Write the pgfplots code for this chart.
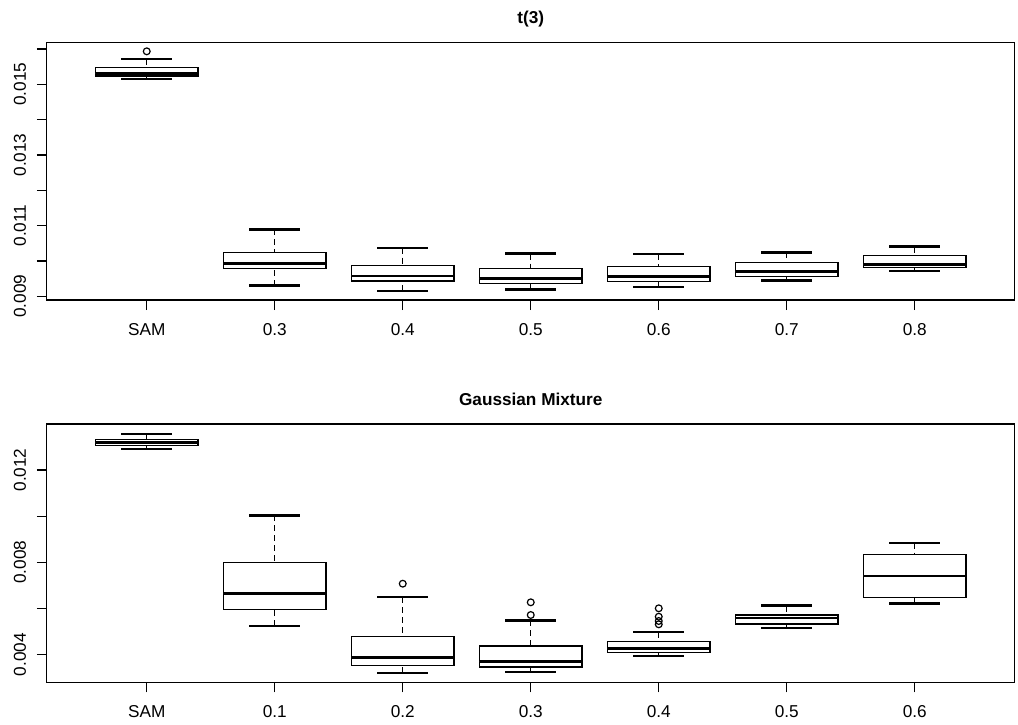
\documentclass[border=0pt]{standalone}
\usepackage{fontspec}
\setmainfont{Liberation Sans}
\usepackage{pgfplots}
\pgfplotsset{compat=1.18}
\usepgfplotslibrary{statistics}

\pgfplotsset{
  rbox/.style={
    scale only axis,
    width=483.85pt,
    xmin=0.22, xmax=7.78,
    xtick={1,2,3,4,5,6,7},
    axis line style={line width=0.6pt},
    tick align=outside,
    xtick pos=bottom, ytick pos=left,
    major tick length=5pt, minor tick length=5pt,
    every tick/.style={line width=0.6pt, black},
    minor tick style={line width=0.6pt, black},
    scaled y ticks=false,
    every tick label/.append style={font=\fontsize{8.6}{10}\selectfont},
    xticklabel style={anchor=base, yshift=-12.5pt},
    yticklabel style={xshift=-5.5pt, rotate=90, anchor=base},
    title style={font=\fontsize{8.6}{10}\selectfont\bfseries, at={(0.5,1)}, anchor=base, yshift=3.5pt},
    boxplot/draw direction=y,
    boxplot/box extend=0.8,
    boxplot/whisker extend=0.4,
    boxplot/every median/.style={line width=1.4pt},
    boxplot/draw/lower whisker/.code={%
      \draw[dash pattern=on 3pt off 2pt, line width=0.6pt]
        (boxplot box cs:\pgfplotsboxplotvalue{lower whisker},0.5) --
        (boxplot box cs:\pgfplotsboxplotvalue{lower quartile},0.5);
      \draw[line width=1.2pt]
        (boxplot whisker cs:\pgfplotsboxplotvalue{lower whisker},0) --
        (boxplot whisker cs:\pgfplotsboxplotvalue{lower whisker},1);
    },
    boxplot/draw/upper whisker/.code={%
      \draw[dash pattern=on 3pt off 2pt, line width=0.6pt]
        (boxplot box cs:\pgfplotsboxplotvalue{upper whisker},0.5) --
        (boxplot box cs:\pgfplotsboxplotvalue{upper quartile},0.5);
      \draw[line width=1.2pt]
        (boxplot whisker cs:\pgfplotsboxplotvalue{upper whisker},0) --
        (boxplot whisker cs:\pgfplotsboxplotvalue{upper whisker},1);
    },
  },
  bx/.style={draw=black, fill=white, line width=0.6pt},
  outl/.style={only marks, mark=o, mark size=1.7pt, mark options={line width=0.6pt, draw=black}},
}

\begin{document}
\begin{tikzpicture}
\useasboundingbox (0pt,0pt) rectangle (509pt,-362pt);

% ---------- top panel: t(3) ----------
\begin{axis}[rbox,
  at={(23.45pt,-150pt)}, anchor=south west,
  height=128.85pt,
  ymin=0.008895, ymax=0.016189,
  ytick={0.009,0.011,0.013,0.015},
  yticklabels={0.009,0.011,0.013,0.015},
  minor ytick={0.010,0.012,0.014,0.016},
  xticklabels={SAM,0.3,0.4,0.5,0.6,0.7,0.8},
  title={t(3)},
]
\addplot[bx, boxplot prepared={draw position=1, lower whisker=0.01515, lower quartile=0.015235, median=0.0153, upper quartile=0.01547, upper whisker=0.015716}] coordinates {};
\addplot[bx, boxplot prepared={draw position=2, lower whisker=0.0093, lower quartile=0.009781, median=0.009923, upper quartile=0.010245, upper whisker=0.010896}] coordinates {};
\addplot[bx, boxplot prepared={draw position=3, lower whisker=0.009158, lower quartile=0.009433, median=0.009575, upper quartile=0.009866, upper whisker=0.010375}] coordinates {};
\addplot[bx, boxplot prepared={draw position=4, lower whisker=0.009187, lower quartile=0.009357, median=0.009509, upper quartile=0.009792, upper whisker=0.010206}] coordinates {};
\addplot[bx, boxplot prepared={draw position=5, lower whisker=0.009263, lower quartile=0.009413, median=0.009566, upper quartile=0.009849, upper whisker=0.010189}] coordinates {};
\addplot[bx, boxplot prepared={draw position=6, lower whisker=0.009442, lower quartile=0.009566, median=0.009696, upper quartile=0.009962, upper whisker=0.010245}] coordinates {};
\addplot[bx, boxplot prepared={draw position=7, lower whisker=0.009716, lower quartile=0.009811, median=0.009906, upper quartile=0.010149, upper whisker=0.010404}] coordinates {};
\addplot[outl] coordinates {(1,0.015934)};
\end{axis}

% ---------- bottom panel: Gaussian Mixture ----------
\begin{axis}[rbox,
  at={(23.45pt,-341.15pt)}, anchor=south west,
  height=129.15pt,
  ymin=0.002804, ymax=0.013994,
  ytick={0.004,0.008,0.012},
  yticklabels={0.004,0.008,0.012},
  minor ytick={0.006,0.010},
  xticklabels={SAM,0.1,0.2,0.3,0.4,0.5,0.6},
  title={Gaussian Mixture},
]
\addplot[bx, boxplot prepared={draw position=1, lower whisker=0.012911, lower quartile=0.013072, median=0.013184, upper quartile=0.013332, upper whisker=0.013574}] coordinates {};
\addplot[bx, boxplot prepared={draw position=2, lower whisker=0.005243, lower quartile=0.00595, median=0.006643, upper quartile=0.008003, upper whisker=0.010039}] coordinates {};
\addplot[bx, boxplot prepared={draw position=3, lower whisker=0.003207, lower quartile=0.003523, median=0.003887, upper quartile=0.004797, upper whisker=0.0065}] coordinates {};
\addplot[bx, boxplot prepared={draw position=4, lower whisker=0.00325, lower quartile=0.003467, median=0.003697, upper quartile=0.004377, upper whisker=0.00549}] coordinates {};
\addplot[bx, boxplot prepared={draw position=5, lower whisker=0.003931, lower quartile=0.004104, median=0.00426, upper quartile=0.00458, upper whisker=0.004983}] coordinates {};
\addplot[bx, boxplot prepared={draw position=6, lower whisker=0.005157, lower quartile=0.00533, median=0.00559, upper quartile=0.00572, upper whisker=0.006123}] coordinates {};
\addplot[bx, boxplot prepared={draw position=7, lower whisker=0.00621, lower quartile=0.006469, median=0.00741, upper quartile=0.008332, upper whisker=0.008852}] coordinates {};
\addplot[outl] coordinates {(3,0.007076) (4,0.00627) (4,0.00572) (5,0.00601) (5,0.005646) (5,0.00546) (5,0.005317)};
\end{axis}
\end{tikzpicture}
\end{document}
